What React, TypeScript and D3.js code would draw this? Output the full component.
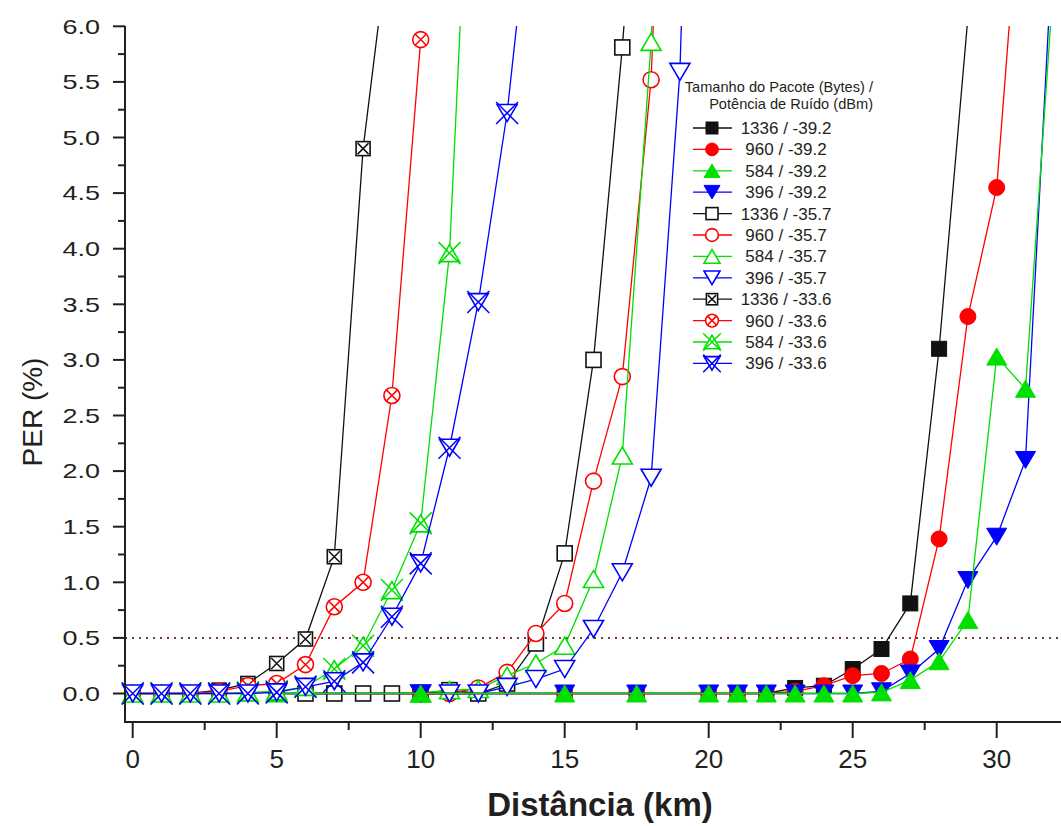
import React from 'react';
import * as d3 from 'd3';

// ---------- data ----------
const X_TICKS = [0, 5, 10, 15, 20, 25, 30];
const X_MINOR = [2.5, 7.5, 12.5, 17.5, 22.5, 27.5];
const Y_TICKS = [0, 0.5, 1, 1.5, 2, 2.5, 3, 3.5, 4, 4.5, 5, 5.5, 6];
const Y_TICK_LABELS = ['0.0', '0.5', '1.0', '1.5', '2.0', '2.5', '3.0', '3.5', '4.0', '4.5', '5.0', '5.5', '6.0'];
const Y_MINOR = [0.25, 0.75, 1.25, 1.75, 2.25, 2.75, 3.25, 3.75, 4.25, 4.75, 5.25, 5.75];
const THRESHOLD = 0.5;

// noise -39.2 dBm (filled symbols)
const dist392 = [5, 10, 15, 17.5, 20, 21, 22, 23, 24, 25, 26, 27, 28, 29, 30, 31, 32];
const per1336_392 = [0, 0, 0, 0, 0, 0, 0, 0.05, 0.07, 0.22, 0.4, 0.81, 3.1, 6.08];
const per960_392 = [0, 0, 0, 0, 0, 0, 0, 0.02, 0.07, 0.16, 0.18, 0.31, 1.39, 3.39, 4.55, 7.9];
const per584_392 = [0, 0, 0, 0, 0, 0, 0, 0, 0, 0, 0.01, 0.12, 0.29, 0.66, 3.03, 2.74, 6.5];
const per396_392 = [0, 0, 0, 0, 0, 0, 0, 0, 0, 0, 0.02, 0.18, 0.4, 1.02, 1.41, 2.1, 7.0];

// noise -35.7 dBm (open symbols)
const dist357a = [6, 7, 8, 9, 10, 11, 12, 13, 14, 15, 16, 17, 18];
const per1336_357 = [0, 0, 0, 0, 0, 0.03, 0, 0.09, 0.45, 1.26, 3.0, 5.81, 9.2];
const dist357b = [10, 11, 12, 13, 14, 15, 16, 17, 18, 19, 20];
const per960_357 = [0, 0, 0.05, 0.19, 0.54, 0.81, 1.91, 2.85, 5.52, 12];
const per584_357 = [0, 0.03, 0.04, 0.16, 0.27, 0.43, 1.03, 2.14, 5.86, 12];
const per396_357 = [0, 0, 0, 0.06, 0.13, 0.22, 0.58, 1.09, 1.94, 5.59, 14];

// noise -33.6 dBm (crossed symbols)
const dist336 = [0, 1, 2, 3, 4, 5, 6, 7, 8, 9, 10, 11, 12, 13, 14];
const per1336_336 = [0, 0, 0, 0.03, 0.09, 0.27, 0.49, 1.23, 4.9, 7.0];
const per960_336 = [0, 0, 0, 0.02, 0.07, 0.09, 0.26, 0.78, 1.0, 2.68, 5.88];
const per584_336 = [0, 0, 0, 0, 0.01, 0.02, 0.06, 0.22, 0.43, 0.93, 1.53, 3.96, 9.5];
const per396_336 = [0, 0, 0, 0, 0, 0.01, 0.06, 0.11, 0.28, 0.69, 1.17, 2.21, 3.52, 5.22, 7.6];

const LEGEND_TITLE = ['Tamanho do Pacote (Bytes) /', 'Potência de Ruído (dBm)'];

type Shape = 'square' | 'circle' | 'up' | 'down';
type Style = 'filled' | 'open' | 'crossed';
interface Series { label: string; xs: number[]; ys: number[]; color: string; shape: Shape; style: Style; }

const BLACK = '#111111';
const RED = '#ff0000';
const GREEN = '#00e000';
const BLUE = '#0000ff';

const legendSeries: Series[] = [
  { label: '1336 / -39.2', xs: dist392, ys: per1336_392, color: BLACK, shape: 'square', style: 'filled' },
  { label: '960 / -39.2', xs: dist392, ys: per960_392, color: RED, shape: 'circle', style: 'filled' },
  { label: '584 / -39.2', xs: dist392, ys: per584_392, color: GREEN, shape: 'up', style: 'filled' },
  { label: '396 / -39.2', xs: dist392, ys: per396_392, color: BLUE, shape: 'down', style: 'filled' },
  { label: '1336 / -35.7', xs: dist357a, ys: per1336_357, color: BLACK, shape: 'square', style: 'open' },
  { label: '960 / -35.7', xs: dist357b, ys: per960_357, color: RED, shape: 'circle', style: 'open' },
  { label: '584 / -35.7', xs: dist357b, ys: per584_357, color: GREEN, shape: 'up', style: 'open' },
  { label: '396 / -35.7', xs: dist357b, ys: per396_357, color: BLUE, shape: 'down', style: 'open' },
  { label: '1336 / -33.6', xs: dist336, ys: per1336_336, color: BLACK, shape: 'square', style: 'crossed' },
  { label: '960 / -33.6', xs: dist336, ys: per960_336, color: RED, shape: 'circle', style: 'crossed' },
  { label: '584 / -33.6', xs: dist336, ys: per584_336, color: GREEN, shape: 'up', style: 'crossed' },
  { label: '396 / -33.6', xs: dist336, ys: per396_336, color: BLUE, shape: 'down', style: 'crossed' },
];

// drawing order: open, filled, crossed
const drawOrder = [4, 5, 6, 7, 0, 1, 3, 2, 8, 9, 10, 11];

// ---------- layout ----------
const W = 1061, H = 826;
const AX_LEFT = 125, AX_BOTTOM = 722, AX_TOP = 26;
const x = d3.scaleLinear().domain([0, 30]).range([132.7, 996.7]);
const y = d3.scaleLinear().domain([0, 6]).range([693.5, 26.3]);
const TXT = '#231f20';
const FONT = "Arial, 'Liberation Sans', sans-serif";

function Marker({ shape, style, color, cx, cy, k = 1 }: { shape: Shape; style: Style; color: string; cx: number; cy: number; k?: number }) {
  const fill = style === 'filled' ? color : '#ffffff';
  const sw = style === 'filled' ? 1 : 1.6;
  const els: React.ReactNode[] = [];
  if (shape === 'square') {
    const s = (style === 'crossed' ? 14 : 15) * k;
    els.push(<rect key="r" x={cx - s / 2} y={cy - s / 2} width={s} height={s} fill={fill} stroke={color} strokeWidth={sw} />);
    if (style === 'crossed') {
      const a = s / 2 - 1.5;
      els.push(<path key="x" d={`M${cx - a},${cy - a}L${cx + a},${cy + a}M${cx - a},${cy + a}L${cx + a},${cy - a}`} stroke={color} strokeWidth={1.5} />);
    }
  } else if (shape === 'circle') {
    const r = 8 * k;
    els.push(<circle key="c" cx={cx} cy={cy} r={r} fill={fill} stroke={color} strokeWidth={sw} />);
    if (style === 'crossed') {
      const a = r * 0.7;
      els.push(<path key="x" d={`M${cx - a},${cy - a}L${cx + a},${cy + a}M${cx - a},${cy + a}L${cx + a},${cy - a}`} stroke={color} strokeWidth={1.5} />);
    }
  } else {
    const w = 20 * k, h = 17 * k;
    const up = shape === 'up';
    const d = up
      ? `M${cx},${cy - h / 2}L${cx + w / 2},${cy + h / 2}L${cx - w / 2},${cy + h / 2}Z`
      : `M${cx},${cy + h / 2}L${cx + w / 2},${cy - h / 2}L${cx - w / 2},${cy - h / 2}Z`;
    els.push(<path key="t" d={d} fill={fill} stroke={color} strokeWidth={sw} strokeLinejoin="miter" />);
    if (style === 'crossed') {
      const a = 11 * k;
      els.push(<path key="x" d={`M${cx - a},${cy - a}L${cx + a},${cy + a}M${cx - a},${cy + a}L${cx + a},${cy - a}`} stroke={color} strokeWidth={1.5} />);
    }
  }
  return <g>{els}</g>;
}

export default function App() {
  const line = d3.line<[number, number]>().x(d => x(d[0])).y(d => y(d[1]));

  const legendX0 = 693, legendX1 = 732, legendMx = 712, legendTextX = 786;
  const rowY = (i: number) => 128 + i * 21.4;

  return (
    <svg width={W} height={H} style={{ position: 'absolute', left: 0, top: 0, background: '#fff' }} fontFamily={FONT}>
      <defs>
        <clipPath id="plotclip">
          <rect x={AX_LEFT} y={AX_TOP} width={W - AX_LEFT} height={AX_BOTTOM - AX_TOP} />
        </clipPath>
      </defs>
      <rect x={0} y={0} width={W} height={H} fill="#fff" />

      {/* threshold dotted line */}
      <line x1={AX_LEFT} x2={W} y1={y(THRESHOLD)} y2={y(THRESHOLD)} stroke="#6b3b3b" strokeWidth={2} strokeDasharray="2 5" />

      {/* series */}
      {drawOrder.map(i => {
        const s = legendSeries[i];
        const pts: [number, number][] = s.ys.map((v, j) => [s.xs[j], v]);
        return (
          <g key={i}>
            <path d={line(pts) || ''} fill="none" stroke={s.color} strokeWidth={1.3} clipPath="url(#plotclip)" />
            {pts.filter(p => p[1] <= 6.05).map((p, j) => (
              <Marker key={j} shape={s.shape} style={s.style} color={s.color} cx={x(p[0])} cy={y(p[1])} />
            ))}
          </g>
        );
      })}

      {/* axes */}
      <line x1={AX_LEFT} x2={AX_LEFT} y1={AX_TOP} y2={AX_BOTTOM + 1} stroke={TXT} strokeWidth={2} />
      <line x1={AX_LEFT - 1} x2={W} y1={AX_BOTTOM} y2={AX_BOTTOM} stroke={TXT} strokeWidth={2} />
      {Y_TICKS.map((t, i) => (
        <g key={'yt' + i}>
          <line x1={AX_LEFT - 12} x2={AX_LEFT} y1={y(t)} y2={y(t)} stroke={TXT} strokeWidth={2} />
          <text transform={`translate(100,${y(t) + 7.3}) scale(1.35,1)`} textAnchor="end" fontSize={20} fill={TXT}>{Y_TICK_LABELS[i]}</text>
        </g>
      ))}
      {Y_MINOR.map((t, i) => (
        <line key={'ym' + i} x1={AX_LEFT - 7} x2={AX_LEFT} y1={y(t)} y2={y(t)} stroke={TXT} strokeWidth={2} />
      ))}
      {X_TICKS.map((t, i) => (
        <g key={'xt' + i}>
          <line x1={x(t)} x2={x(t)} y1={AX_BOTTOM} y2={AX_BOTTOM + 16} stroke={TXT} strokeWidth={2} />
          <text x={x(t)} y={768} textAnchor="middle" fontSize={26} fill={TXT}>{String(t)}</text>
        </g>
      ))}
      {X_MINOR.map((t, i) => (
        <line key={'xm' + i} x1={x(t)} x2={x(t)} y1={AX_BOTTOM} y2={AX_BOTTOM + 8} stroke={TXT} strokeWidth={2} />
      ))}

      {/* axis titles */}
      <text x={600} y={816} textAnchor="middle" fontSize={33} fontWeight="bold" fill={TXT}>Distância (km)</text>
      <text transform="translate(42,412) rotate(-90)" textAnchor="middle" fontSize={28} fill={TXT}>PER (%)</text>

      {/* legend */}
      <text x={873} y={91.5} textAnchor="end" fontSize={14.6} fill={TXT}>{LEGEND_TITLE[0]}</text>
      <text x={873} y={109} textAnchor="end" fontSize={14.6} fill={TXT}>{LEGEND_TITLE[1]}</text>
      {legendSeries.map((s, i) => (
        <g key={'lg' + i}>
          <line x1={legendX0} x2={legendX1} y1={rowY(i)} y2={rowY(i)} stroke={s.color} strokeWidth={1.3} />
          <Marker shape={s.shape} style={s.style} color={s.color} cx={legendMx} cy={rowY(i)} k={0.8} />
          <text x={legendTextX} y={rowY(i) + 6} textAnchor="middle" fontSize={17} fill={TXT}>{s.label}</text>
        </g>
      ))}
    </svg>
  );
}
